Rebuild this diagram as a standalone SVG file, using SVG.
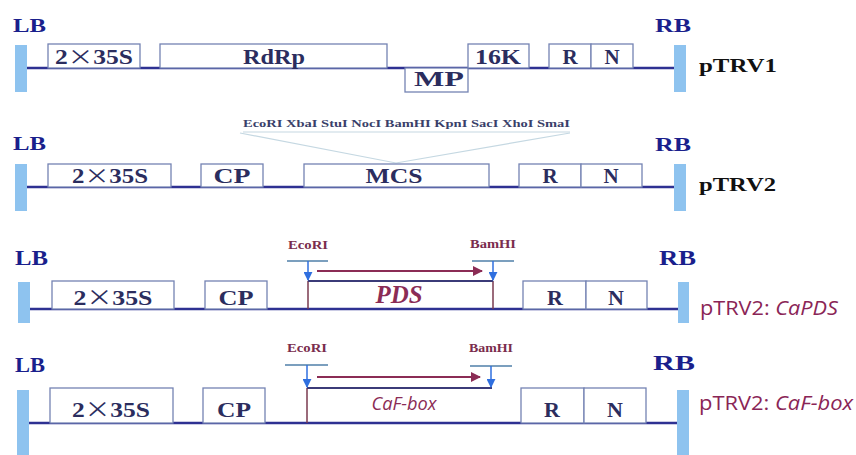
<svg xmlns="http://www.w3.org/2000/svg" width="856" height="455" viewBox="0 0 856 455">
<style>
.bg{fill:#ffffff}
.bar{fill:#8ec3ef}
.main{stroke:#2e3192;stroke-width:2.5;fill:none}
.box{fill:#ffffff;stroke:#7483b3;stroke-width:1.3}
.bl{font-family:"Liberation Serif",serif;font-weight:bold;fill:#2b2d5e;text-anchor:middle}
.x{font-family:"Noto Sans CJK SC",sans-serif;font-weight:normal}
.lbrb{font-family:"Liberation Serif",serif;font-weight:bold;fill:#1a1f8c}
.name{font-family:"Liberation Serif",serif;font-weight:bold;fill:#111111;font-size:19px}
.mcs{font-family:"Liberation Serif",serif;font-weight:bold;fill:#3a3f6a;font-size:10px}
.funnel{stroke:#c5d8e2;stroke-width:1.2;fill:none}
.site{font-family:"Liberation Serif",serif;font-weight:bold;fill:#7a2d4d;font-size:12px;text-anchor:middle}
.tick{stroke:#4f7fa8;stroke-width:1.5}
.cut{stroke:#2f6fdf;stroke-width:1.5}
.ins{stroke:#7a3a4f;stroke-width:1.5;fill:none}
.instop{stroke:#3b3b78;stroke-width:2;fill:none}
.dir{stroke:#8b2c55;stroke-width:2}
.rec{font-family:"Open Sans","Liberation Sans",sans-serif;fill:#8a2556;font-size:20px}
</style>
<defs>
<marker id="ah" viewBox="0 0 10 10" refX="9" refY="5" markerWidth="5" markerHeight="5" orient="auto" markerUnits="strokeWidth"><path d="M0,0 L10,5 L0,10 z" fill="#8b2c55"/></marker>
<marker id="cutah" viewBox="0 0 10 10" refX="9" refY="5" markerWidth="6" markerHeight="6" orient="auto" markerUnits="strokeWidth"><path d="M0,0 L10,5 L0,10 z" fill="#2f6fdf"/></marker>
</defs>
<rect class="bg" x="0" y="0" width="856" height="455"/>

<!-- Row 1: pTRV1 -->
<g id="row1">
  <text class="lbrb" x="13" y="32" font-size="19" textLength="33" lengthAdjust="spacingAndGlyphs">LB</text>
  <text class="lbrb" x="655" y="32" font-size="19" textLength="36" lengthAdjust="spacingAndGlyphs">RB</text>
  <line class="main" x1="27" y1="68" x2="674" y2="68"/>
  <g id="r1-35s"><rect class="box" x="48" y="44" width="92" height="24"/><text class="bl" x="94" y="64" font-size="21" textLength="78" lengthAdjust="spacingAndGlyphs">2<tspan class="x">×</tspan>35S</text></g>
  <g id="r1-rdrp"><rect class="box" x="160" y="44" width="227" height="24"/><text class="bl" x="274" y="64" font-size="21" textLength="62" lengthAdjust="spacingAndGlyphs">RdRp</text></g>
  <g id="r1-mp"><rect class="box" x="405" y="68" width="63" height="24"/><text class="bl" x="439" y="86" font-size="21" textLength="50" lengthAdjust="spacingAndGlyphs">MP</text></g>
  <g id="r1-16k"><rect class="box" x="468" y="44" width="61" height="24"/><text class="bl" x="498" y="64" font-size="21" textLength="46" lengthAdjust="spacingAndGlyphs">16K</text></g>
  <g id="r1-r"><rect class="box" x="549" y="44" width="42" height="24"/><text class="bl" x="570" y="64" font-size="21">R</text></g>
  <g id="r1-n"><rect class="box" x="591" y="44" width="42" height="24"/><text class="bl" x="612" y="64" font-size="21">N</text></g>
  <rect class="bar" x="15" y="45" width="12" height="47"/>
  <rect class="bar" x="674" y="45" width="12" height="47"/>
  <text class="name" x="699" y="72" textLength="78" lengthAdjust="spacingAndGlyphs">pTRV1</text>
</g>

<!-- Row 2: pTRV2 -->
<g id="row2">
  <text class="mcs" x="243" y="127" textLength="327" lengthAdjust="spacingAndGlyphs">EcoRI XbaI StuI NocI BamHI KpnI SacI XhoI SmaI</text>
  <line class="funnel" x1="243" y1="132" x2="570" y2="132"/>
  <polyline class="funnel" points="240,133 396,163 570,133"/>
  <text class="lbrb" x="13" y="150" font-size="19" textLength="33" lengthAdjust="spacingAndGlyphs">LB</text>
  <text class="lbrb" x="655" y="151" font-size="19" textLength="36" lengthAdjust="spacingAndGlyphs">RB</text>
  <line class="main" x1="27" y1="187" x2="674" y2="187"/>
  <g id="r2-35s"><rect class="box" x="48" y="164" width="123" height="23"/><text class="bl" x="110" y="183" font-size="21" textLength="76" lengthAdjust="spacingAndGlyphs">2<tspan class="x">×</tspan>35S</text></g>
  <g id="r2-cp"><rect class="box" x="201" y="164" width="62" height="23"/><text class="bl" x="232" y="183" font-size="21" textLength="37" lengthAdjust="spacingAndGlyphs">CP</text></g>
  <g id="r2-mcs"><rect class="box" x="304" y="164" width="185" height="23"/><text class="bl" x="394" y="183" font-size="21" textLength="57" lengthAdjust="spacingAndGlyphs">MCS</text></g>
  <g id="r2-r"><rect class="box" x="519" y="164" width="62" height="23"/><text class="bl" x="550" y="183" font-size="21">R</text></g>
  <g id="r2-n"><rect class="box" x="581" y="164" width="61" height="23"/><text class="bl" x="611" y="183" font-size="21">N</text></g>
  <rect class="bar" x="15" y="164" width="12" height="47"/>
  <rect class="bar" x="674" y="164" width="12" height="47"/>
  <text class="name" x="699" y="191" textLength="77" lengthAdjust="spacingAndGlyphs">pTRV2</text>
</g>

<!-- Row 3: pTRV2:CaPDS -->
<g id="row3">
  <text class="lbrb" x="15" y="265" font-size="20" textLength="33" lengthAdjust="spacingAndGlyphs">LB</text>
  <text class="lbrb" x="659" y="265" font-size="20" textLength="37" lengthAdjust="spacingAndGlyphs">RB</text>
  <line class="main" x1="30" y1="309" x2="678" y2="309"/>
  <g id="r3-35s"><rect class="box" x="52" y="281" width="122" height="28"/><text class="bl" x="113" y="305" font-size="22" textLength="79" lengthAdjust="spacingAndGlyphs">2<tspan class="x">×</tspan>35S</text></g>
  <g id="r3-cp"><rect class="box" x="205" y="281" width="62" height="28"/><text class="bl" x="236" y="305" font-size="22" textLength="35" lengthAdjust="spacingAndGlyphs">CP</text></g>
  <g id="r3-pds">
    <line class="ins" x1="308" y1="281" x2="308" y2="309"/>
    <line class="ins" x1="493" y1="281" x2="493" y2="309"/>
    <line class="instop" x1="308" y1="281" x2="493" y2="281"/>
    <text x="399" y="303" font-family="Liberation Serif,serif" font-weight="bold" font-style="italic" font-size="25" fill="#8b2c55" text-anchor="middle" textLength="47" lengthAdjust="spacingAndGlyphs">PDS</text>
  </g>
  <g id="r3-r"><rect class="box" x="523" y="281" width="63" height="28"/><text class="bl" x="555" y="305" font-size="22">R</text></g>
  <g id="r3-n"><rect class="box" x="586" y="281" width="61" height="28"/><text class="bl" x="616" y="305" font-size="22">N</text></g>
  <g id="r3-ecori">
    <text class="site" x="308" y="249" textLength="40" lengthAdjust="spacingAndGlyphs">EcoRI</text>
    <line class="tick" x1="287" y1="261" x2="328" y2="261"/>
    <line class="cut" x1="308" y1="261" x2="308" y2="280" marker-end="url(#cutah)"/>
  </g>
  <g id="r3-bamhi">
    <text class="site" x="493" y="248" textLength="46" lengthAdjust="spacingAndGlyphs">BamHI</text>
    <line class="tick" x1="472" y1="261" x2="514" y2="261"/>
    <line class="cut" x1="493" y1="261" x2="493" y2="280" marker-end="url(#cutah)"/>
  </g>
  <line class="dir" x1="317" y1="271" x2="482" y2="271" marker-end="url(#ah)"/>
  <rect class="bar" x="18" y="282" width="12" height="41"/>
  <rect class="bar" x="678" y="282" width="11" height="41"/>
  <text class="rec" x="700" y="315" textLength="138" lengthAdjust="spacingAndGlyphs">pTRV2: <tspan font-style="italic">CaPDS</tspan></text>
</g>

<!-- Row 4: pTRV2:CaF-box -->
<g id="row4">
  <text class="lbrb" x="15" y="372" font-size="21" textLength="30" lengthAdjust="spacingAndGlyphs">LB</text>
  <text class="lbrb" x="653" y="370" font-size="22" textLength="42" lengthAdjust="spacingAndGlyphs">RB</text>
  <line class="main" x1="29" y1="423" x2="677" y2="423"/>
  <g id="r4-35s"><rect class="box" x="50" y="388" width="123" height="35"/><text class="bl" x="111" y="417" font-size="22" textLength="78" lengthAdjust="spacingAndGlyphs">2<tspan class="x">×</tspan>35S</text></g>
  <g id="r4-cp"><rect class="box" x="203" y="388" width="62" height="35"/><text class="bl" x="234" y="417" font-size="22" textLength="34" lengthAdjust="spacingAndGlyphs">CP</text></g>
  <g id="r4-cafbox">
    <line class="ins" x1="307" y1="388" x2="307" y2="423"/>
    <line class="instop" x1="307" y1="388" x2="492" y2="388"/>
    <text x="404" y="410" font-family="Open Sans,Liberation Sans,sans-serif" font-style="italic" font-size="18" fill="#8b2c55" text-anchor="middle" textLength="65" lengthAdjust="spacingAndGlyphs">CaF-box</text>
  </g>
  <g id="r4-r"><rect class="box" x="521" y="388" width="63" height="35"/><text class="bl" x="552" y="417" font-size="22">R</text></g>
  <g id="r4-n"><rect class="box" x="584" y="388" width="62" height="35"/><text class="bl" x="615" y="417" font-size="22">N</text></g>
  <g id="r4-ecori">
    <text class="site" x="307" y="352" textLength="40" lengthAdjust="spacingAndGlyphs">EcoRI</text>
    <line class="tick" x1="285" y1="365" x2="328" y2="365"/>
    <line class="cut" x1="307" y1="365" x2="307" y2="387" marker-end="url(#cutah)"/>
  </g>
  <g id="r4-bamhi">
    <text class="site" x="491" y="352" textLength="44" lengthAdjust="spacingAndGlyphs">BamHI</text>
    <line class="tick" x1="470" y1="366" x2="512" y2="366"/>
    <line class="cut" x1="491" y1="366" x2="491" y2="387" marker-end="url(#cutah)"/>
  </g>
  <line class="dir" x1="317" y1="377" x2="480" y2="377" marker-end="url(#ah)"/>
  <rect class="bar" x="17" y="390" width="12" height="65"/>
  <rect class="bar" x="677" y="390" width="12" height="65"/>
  <text class="rec" x="699" y="410" textLength="154" lengthAdjust="spacingAndGlyphs">pTRV2: <tspan font-style="italic">CaF-box</tspan></text>
</g>
</svg>
